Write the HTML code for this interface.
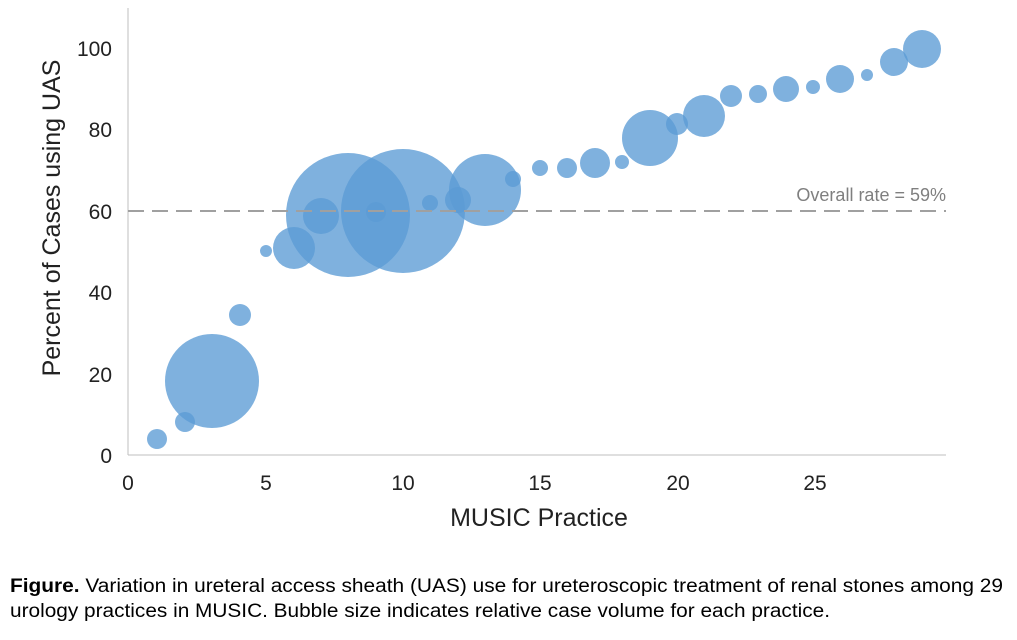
<!DOCTYPE html>
<html><head><style>
body{margin:0;background:#fff;width:1017px;height:635px;overflow:hidden;font-family:"Liberation Sans",Arial,sans-serif;}
</style></head><body>
<svg width="1017" height="635" xmlns="http://www.w3.org/2000/svg" font-family="Liberation Sans, Arial, sans-serif">
<line x1="128" y1="8" x2="128" y2="455" stroke="#bfbfbf" stroke-width="1"/>
<line x1="128" y1="455" x2="946" y2="455" stroke="#bfbfbf" stroke-width="1"/>
<g font-size="21" fill="#222" text-anchor="end">
<text x="112" y="463">0</text><text x="112" y="382">20</text><text x="112" y="300">40</text>
<text x="112" y="219">60</text><text x="112" y="137">80</text><text x="112" y="56">100</text>
</g>
<g font-size="21" fill="#222" text-anchor="middle">
<text x="128" y="490">0</text><text x="266" y="490">5</text><text x="403" y="490">10</text>
<text x="540" y="490">15</text><text x="678" y="490">20</text><text x="815" y="490">25</text>
</g>
<text x="539" y="526" font-size="25" fill="#222" text-anchor="middle">MUSIC Practice</text>
<text transform="translate(60,218) rotate(-90)" font-size="25" fill="#222" text-anchor="middle">Percent of Cases using UAS</text>
<g fill="#5b9bd5" fill-opacity="0.78">
<circle cx="157" cy="439" r="10"/><circle cx="185" cy="422" r="10"/><circle cx="212" cy="381" r="47"/>
<circle cx="240" cy="315" r="11"/><circle cx="266" cy="251" r="6"/><circle cx="294" cy="248" r="21"/>
<circle cx="321" cy="216" r="18"/><circle cx="348" cy="215" r="62"/><circle cx="376" cy="212" r="10"/>
<circle cx="403" cy="211" r="62"/><circle cx="430" cy="203" r="8"/><circle cx="458" cy="200" r="13"/>
<circle cx="485" cy="190" r="36"/><circle cx="513" cy="179" r="8"/><circle cx="540" cy="168" r="8"/>
<circle cx="567" cy="168" r="10"/><circle cx="595" cy="163" r="15"/><circle cx="622" cy="162" r="7"/>
<circle cx="650" cy="138" r="28"/><circle cx="677" cy="124" r="11"/><circle cx="704" cy="116" r="21"/>
<circle cx="731" cy="96" r="11"/><circle cx="758" cy="94" r="9"/><circle cx="786" cy="89" r="13"/>
<circle cx="813" cy="87" r="7"/><circle cx="840" cy="79" r="14"/><circle cx="867" cy="75" r="6"/>
<circle cx="894" cy="62" r="14"/><circle cx="922" cy="49" r="19"/>
</g>
<line x1="128" y1="211" x2="946" y2="211" stroke="#a0a0a0" stroke-width="2" stroke-dasharray="16,8"/>
<text x="946" y="201" font-size="18" fill="#7f7f7f" text-anchor="end">Overall rate = 59%</text>
<text x="10" y="592" font-size="19" fill="#000" textLength="993" lengthAdjust="spacingAndGlyphs"><tspan font-weight="bold">Figure.</tspan> Variation in ureteral access sheath (UAS) use for ureteroscopic treatment of renal stones among 29</text>
<text x="10" y="617" font-size="19" fill="#000" textLength="820" lengthAdjust="spacingAndGlyphs">urology practices in MUSIC. Bubble size indicates relative case volume for each practice.</text>
</svg>
</body></html>
